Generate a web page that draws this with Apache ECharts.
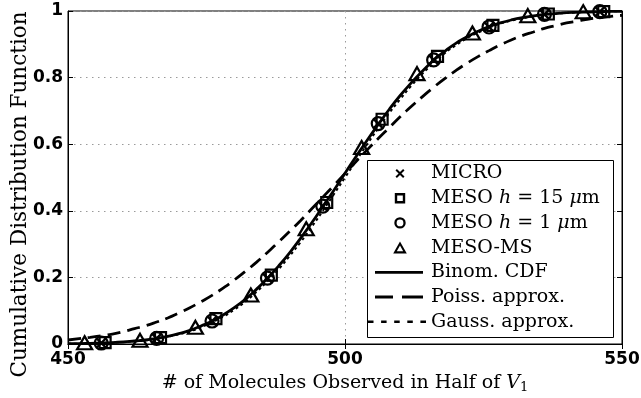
<!DOCTYPE html>
<html>
<head>
<meta charset="utf-8">
<script src="https://cdn.jsdelivr.net/npm/echarts@6/dist/echarts.min.js"></script>
<style>
  html, body { margin: 0; padding: 0; background: #fff; }
  #chart { width: 641px; height: 398px; }
</style>
</head>
<body>
<div id="chart"></div>
<script>
// Molecule counts on the x axis for the continuous curves
const curveX = [450, 452, 454, 456, 458, 460, 462, 464, 466, 468, 470, 472, 474, 476, 478,
  480, 482, 484, 486, 488, 490, 492, 494, 496, 498, 500, 502, 504, 506, 508, 510, 512, 514,
  516, 518, 520, 522, 524, 526, 528, 530, 532, 534, 536, 538, 540, 542, 544, 546, 548, 550];

// Binomial CDF
const binomCdf = [0.001, 0.001, 0.002, 0.003, 0.004, 0.006, 0.009, 0.012, 0.017, 0.023,
  0.031, 0.041, 0.054, 0.068, 0.087, 0.109, 0.134, 0.164, 0.197, 0.234, 0.274, 0.318, 0.364,
  0.413, 0.462, 0.513, 0.563, 0.612, 0.659, 0.705, 0.747, 0.785, 0.820, 0.852, 0.879, 0.903,
  0.922, 0.939, 0.953, 0.964, 0.973, 0.980, 0.985, 0.990, 0.992, 0.995, 0.996, 0.997, 0.998,
  0.999, 0.999];

// Poisson approximation
const poissCdf = [0.012, 0.016, 0.020, 0.025, 0.030, 0.037, 0.046, 0.055, 0.066, 0.078,
  0.093, 0.109, 0.127, 0.146, 0.168, 0.192, 0.218, 0.245, 0.275, 0.306, 0.338, 0.371, 0.406,
  0.441, 0.476, 0.512, 0.548, 0.583, 0.617, 0.650, 0.683, 0.714, 0.743, 0.771, 0.797, 0.821,
  0.843, 0.863, 0.881, 0.898, 0.913, 0.926, 0.937, 0.948, 0.956, 0.964, 0.970, 0.976, 0.980,
  0.984, 0.987];

// Gaussian approximation
const gaussCdf = [0.001, 0.001, 0.002, 0.003, 0.004, 0.006, 0.008, 0.011, 0.016, 0.022,
  0.029, 0.038, 0.050, 0.065, 0.082, 0.103, 0.127, 0.156, 0.188, 0.224, 0.264, 0.306, 0.352,
  0.400, 0.450, 0.500, 0.550, 0.600, 0.648, 0.694, 0.736, 0.776, 0.812, 0.844, 0.873, 0.897,
  0.918, 0.935, 0.950, 0.962, 0.971, 0.978, 0.984, 0.989, 0.992, 0.994, 0.996, 0.997, 0.998,
  0.999, 0.999];

// Simulation estimates
const microX = [456, 466, 476, 486, 496, 506, 516, 526, 536, 546];
const microCdf = [0.003, 0.017, 0.069, 0.198, 0.414, 0.662, 0.853, 0.952, 0.990, 0.998];

const meso15X = [456.7, 466.7, 476.7, 486.7, 496.7, 506.7, 516.7, 526.7, 536.7, 546.7];
const meso15Cdf = [0.004, 0.019, 0.076, 0.207, 0.425, 0.675, 0.864, 0.957, 0.991, 0.998];

const meso1X = [456, 466, 476, 486, 496, 506, 516, 526, 536, 546];
const meso1Cdf = [0.003, 0.017, 0.069, 0.198, 0.414, 0.662, 0.853, 0.952, 0.990, 0.998];

const mesoMsX = [453, 463, 473, 483, 493, 503, 513, 523, 533, 543];
const mesoMsCdf = [0.004, 0.011, 0.050, 0.147, 0.346, 0.590, 0.812, 0.934, 0.986, 0.998];

// Axis ticks
const xTicks = [450, 500, 550];
const yTicks = [0, 0.2, 0.4, 0.6, 0.8, 1];

const seriesNames = ['MICRO', 'MESO h = 15 μm', 'MESO h = 1 μm', 'MESO-MS',
  'Binom. CDF', 'Poiss. approx.', 'Gauss. approx.'];

const pairs = (xs, ys) => xs.map((x, i) => [x, ys[i]]);

// Legend icons, all drawn inside a 58 x 14 box (tiny corner specks fix the box extent)
const box = 'M0 0h0.01v0.01h-0.01Z M57.99 13.99h0.01v0.01h-0.01Z ';
const legendIcons = [
  'path://' + box + 'M27.5 3.9L28.9 2.5L32 5.6L35.1 2.5L36.5 3.9L33.4 7L36.5 10.1L35.1 11.5L32 8.4L28.9 11.5L27.5 10.1L30.6 7Z',
  'path://' + box + 'M26.8 1.8H37.2V12.2H26.8Z M29.2 4.2V9.8H34.8V4.2Z',
  'path://' + box + 'M26.3 7A5.7 5.7 0 1 0 37.7 7A5.7 5.7 0 1 0 26.3 7Z M28.6 7A3.4 3.4 0 1 1 35.4 7A3.4 3.4 0 1 1 28.6 7Z',
  'path://' + box + 'M32 0.8L38.8 12.8L25.2 12.8Z M32 5.0L28.8 10.7L35.2 10.7Z',
  'path://' + box + 'M7 5.6H55V8.4H7Z',
  'path://' + box + 'M7 5.6H25V8.4H7Z M34 5.6H55V8.4H34Z',
  'path://' + box + 'M0 5.8H5.5V8.2H0Z M13.1 5.8H18.6V8.2H13.1Z M26.2 5.8H31.7V8.2H26.2Z M39.3 5.8H44.8V8.2H39.3Z M52.4 5.8H58V8.2H52.4Z'
];

const serif = 'DejaVu Serif';
const rich = {
  n: { fontFamily: serif, fontSize: 19, color: '#000' },
  i: { fontFamily: serif, fontStyle: 'italic', fontSize: 19, color: '#000' },
  s: { fontFamily: serif, fontSize: 13, color: '#000', verticalAlign: 'bottom', padding: [9, 0, 0, 0] }
};

function legendLabel(name) {
  if (name === 'MESO h = 15 μm') return '{n|MESO }{i|h}{n| = 15 }{i|μ}{n|m}';
  if (name === 'MESO h = 1 μm') return '{n|MESO }{i|h}{n| = 1 }{i|μ}{n|m}';
  return '{n|' + name + '}';
}

const tickFont = { fontFamily: 'DejaVu Sans', fontWeight: 'bold', fontSize: 17, color: '#000' };
const frameLine = { show: true, lineStyle: { color: '#000', width: 1 } };
const innerTick = { show: true, inside: true, length: 5, lineStyle: { color: '#000', width: 1 } };
const dottedGrid = { show: true, lineStyle: { color: '#9a9a9a', width: 1, type: [1.5, 4.5] } };

const hollow = { color: 'rgba(0,0,0,0)', borderColor: '#000', borderWidth: 2.2, opacity: 1 };

const option = {
  animation: false,
  backgroundColor: '#fff',
  grid: { left: 68, right: 19, top: 11, bottom: 54, show: true, borderColor: '#000', borderWidth: 1, outerBoundsMode: 'none' },
  xAxis: [
    {
      type: 'value', min: 450, max: 550, interval: 50, position: 'bottom',
      axisLine: frameLine, axisTick: innerTick, splitLine: dottedGrid,
      axisLabel: { ...tickFont, margin: 7, formatter: v => (xTicks.includes(v) ? String(v) : '') },
      name: '{n|# of Molecules Observed in Half of }{i|V}{s|1}',
      nameLocation: 'middle', nameGap: 28, nameMoveOverlap: false,
      nameTextStyle: { rich }
    },
    {
      type: 'value', min: 450, max: 550, interval: 50, position: 'top',
      axisLine: frameLine, axisTick: innerTick, splitLine: { show: false }, axisLabel: { show: false }
    }
  ],
  yAxis: [
    {
      type: 'value', min: 0, max: 1, interval: 0.2, position: 'left',
      axisLine: frameLine, axisTick: innerTick, splitLine: dottedGrid,
      axisLabel: {
        ...tickFont, margin: 5,
        formatter: v => {
          const t = yTicks.find(k => Math.abs(k - v) < 1e-9);
          if (t === undefined) return '';
          return (t === 0 || t === 1) ? String(t) : t.toFixed(1);
        }
      },
      name: 'Cumulative Distribution Function',
      nameLocation: 'middle', nameGap: 37, nameMoveOverlap: false,
      nameTextStyle: { fontFamily: serif, fontSize: 21.5, color: '#000', padding: [0, 34, 0, 0] }
    },
    {
      type: 'value', min: 0, max: 1, interval: 0.2, position: 'right',
      axisLine: frameLine, axisTick: innerTick, splitLine: { show: false }, axisLabel: { show: false }
    }
  ],
  legend: {
    orient: 'vertical', left: 368, top: 164, padding: 0,
    itemWidth: 58, itemHeight: 14, itemGap: 5.7, selectedMode: false, z: 5,
    data: seriesNames.map((name, i) => ({
      name, icon: legendIcons[i], itemStyle: { color: '#000', borderWidth: 0, borderColor: 'rgba(0,0,0,0)', opacity: 1 }
    })),
    formatter: legendLabel,
    textStyle: { fontFamily: serif, fontSize: 19, color: '#000', rich }
  },
  graphic: [
    {
      type: 'rect', left: 367, top: 160, z: 3,
      shape: { width: 246, height: 177 },
      style: { fill: '#fff', stroke: '#000', lineWidth: 1 }
    }
  ],
  series: [
    {
      name: seriesNames[0], type: 'scatter', data: pairs(microX, microCdf),
      symbol: 'path://M0 0L10 10M10 0L0 10', symbolSize: 9,
      itemStyle: { color: 'none', borderColor: '#000', borderWidth: 2.4, opacity: 1 },
      emphasis: { disabled: true }
    },
    {
      name: seriesNames[1], type: 'scatter', data: pairs(meso15X, meso15Cdf),
      symbol: 'rect', symbolSize: 11, itemStyle: hollow, emphasis: { disabled: true }
    },
    {
      name: seriesNames[2], type: 'scatter', data: pairs(meso1X, meso1Cdf),
      symbol: 'circle', symbolSize: 13, itemStyle: hollow, emphasis: { disabled: true }
    },
    {
      name: seriesNames[3], type: 'scatter', data: pairs(mesoMsX, mesoMsCdf),
      symbol: 'triangle', symbolSize: [15, 13], itemStyle: hollow, emphasis: { disabled: true }
    },
    {
      name: seriesNames[4], type: 'line', data: pairs(curveX, binomCdf), smooth: true,
      showSymbol: false, symbol: 'none', color: '#000',
      lineStyle: { color: '#000', width: 2.8 }, emphasis: { disabled: true }
    },
    {
      name: seriesNames[5], type: 'line', data: pairs(curveX, poissCdf), smooth: true,
      showSymbol: false, symbol: 'none', color: '#000',
      lineStyle: { color: '#000', width: 2.8, type: [13, 7] }, emphasis: { disabled: true }
    },
    {
      name: seriesNames[6], type: 'line', data: pairs(curveX, gaussCdf), smooth: true,
      showSymbol: false, symbol: 'none', color: '#000',
      lineStyle: { color: '#000', width: 2, type: [3, 3] }, emphasis: { disabled: true }
    }
  ]
};

const chart = echarts.init(document.getElementById('chart'), null, { renderer: 'canvas' });
chart.setOption(option);
</script>
</body>
</html>
